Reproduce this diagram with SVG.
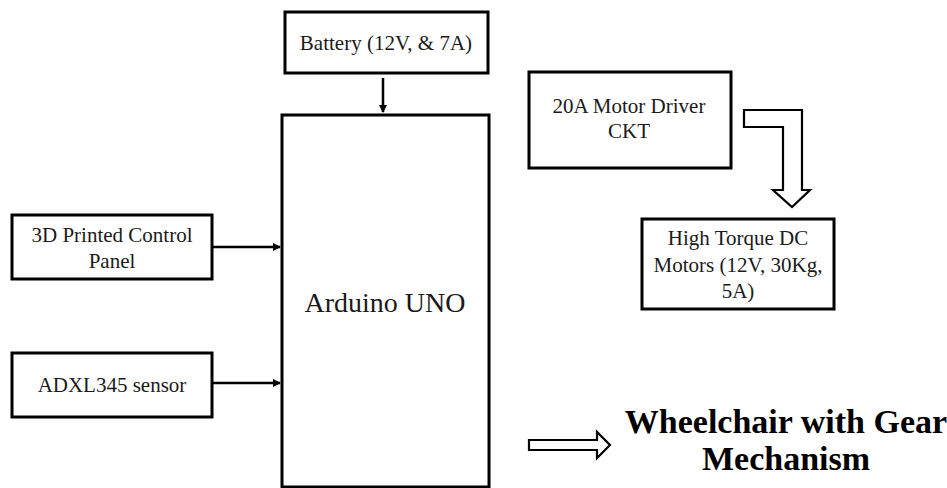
<svg xmlns="http://www.w3.org/2000/svg" width="947" height="488" viewBox="0 0 947 488">
<style>
.box{fill:#fff;stroke:#000;stroke-width:3}
.t{font-family:"Liberation Serif","Times New Roman",serif;font-size:21px;fill:#1a1a1a;text-anchor:middle}
.big{font-size:28px}
.bold{font-family:"Liberation Serif","Times New Roman",serif;font-size:34px;font-weight:bold;fill:#000;text-anchor:middle}
.conn{stroke:#000;stroke-width:2.5;fill:none}
.block{fill:#fff;stroke:#000;stroke-width:2.2;stroke-linejoin:miter}
</style>
<defs>
<marker id="ah" markerWidth="8" markerHeight="8" refX="7" refY="4" orient="auto" markerUnits="userSpaceOnUse">
<path d="M0,0 L8,4 L0,8 Z" fill="#000"/>
</marker>
</defs>
<rect width="947" height="488" fill="#fff"/>
<g id="battery">
<rect class="box" x="285" y="12" width="203" height="61"/>
<text class="t" x="386" y="50">Battery (12V, &amp; 7A)</text>
</g>
<g id="arduino">
<rect class="box" x="282" y="115" width="207" height="372"/>
<text class="t big" x="385" y="312">Arduino UNO</text>
</g>
<g id="panel">
<rect class="box" x="12" y="215" width="200" height="64"/>
<text class="t" x="112" y="242">3D Printed Control</text>
<text class="t" x="112" y="268">Panel</text>
</g>
<g id="sensor">
<rect class="box" x="12" y="353" width="200" height="64"/>
<text class="t" x="112" y="392">ADXL345 sensor</text>
</g>
<g id="driver">
<rect class="box" x="529" y="72" width="202" height="96"/>
<text class="t" x="629" y="113">20A Motor Driver</text>
<text class="t" x="629" y="138">CKT</text>
</g>
<g id="motors">
<rect class="box" x="642" y="219" width="192" height="90"/>
<text class="t" x="738" y="245">High Torque DC</text>
<text class="t" x="738" y="272">Motors (12V, 30Kg,</text>
<text class="t" x="738" y="298">5A)</text>
</g>
<g id="result">
<text class="bold" x="786" y="433">Wheelchair with Gear</text>
<text class="bold" x="786" y="470">Mechanism</text>
</g>
<g id="connectors">
<line class="conn" x1="383" y1="78" x2="383" y2="112" marker-end="url(#ah)"/>
<line class="conn" x1="212" y1="247" x2="280" y2="247" marker-end="url(#ah)"/>
<line class="conn" x1="212" y1="383" x2="280" y2="383" marker-end="url(#ah)"/>
<path class="block" d="M744,110 L802,110 L802,190 L810,190 L792,207 L773,190 L783,190 L783,127 L744,127 Z"/>
<path class="block" d="M529,440 L597,440 L597,432 L610,445 L597,458 L597,450 L529,450 Z"/>
</g>
</svg>
